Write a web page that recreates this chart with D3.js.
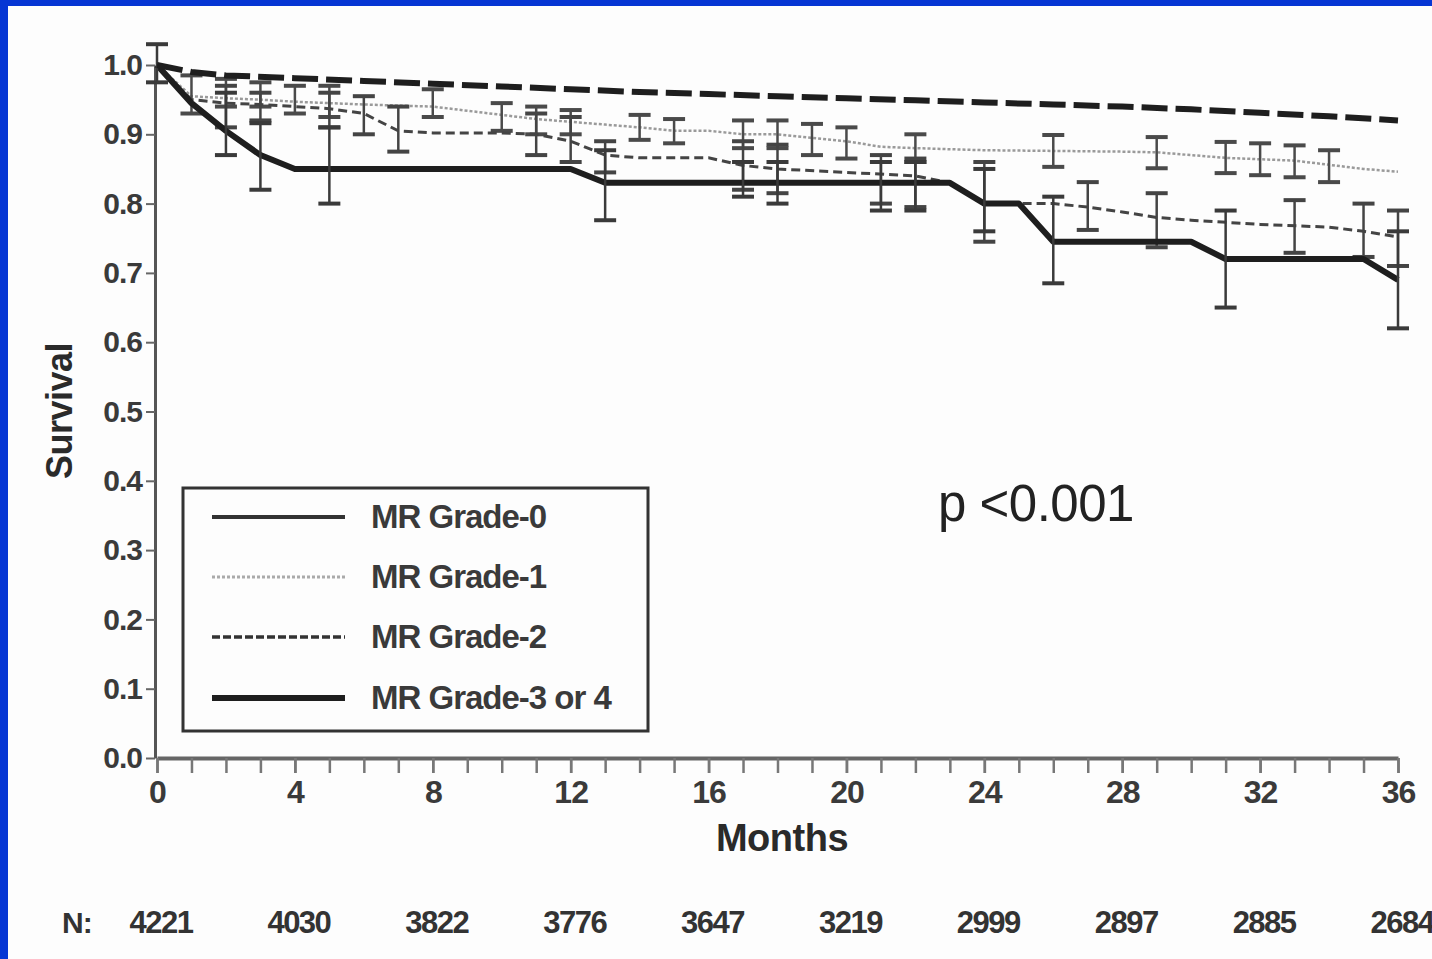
<!DOCTYPE html>
<html>
<head>
<meta charset="utf-8">
<script src="https://cdn.jsdelivr.net/npm/d3@7"></script>
<style>
  html, body { margin: 0; padding: 0; background: #0636d4; }
  svg { display: block; }
</style>
</head>
<body>
<svg id="chart" width="1432" height="959"></svg>
<script>
// ---------- data ----------
const yTicks = [0, 0.1, 0.2, 0.3, 0.4, 0.5, 0.6, 0.7, 0.8, 0.9, 1.0];
const xMajorTicks = [0, 4, 8, 12, 16, 20, 24, 28, 32, 36];
const atRisk = [4221, 4030, 3822, 3776, 3647, 3219, 2999, 2897, 2885, 2684];
const seriesNames = ["MR Grade-0", "MR Grade-1", "MR Grade-2", "MR Grade-3 or 4"];

const g0Months = [0, 1, 2, 4, 6, 8, 10, 12, 14, 16, 18, 20, 22, 24, 26, 28, 30, 32, 34, 36];
const g0Surv   = [1.0, 0.99, 0.985, 0.981, 0.977, 0.973, 0.969, 0.965, 0.961, 0.958, 0.955, 0.952, 0.949, 0.946, 0.943, 0.94, 0.936, 0.931, 0.926, 0.92];

const g1Months = [0, 1, 2, 3, 4, 5, 6, 8, 10, 11, 12, 13, 14, 15, 16, 17, 18, 19, 20, 21, 22, 24, 26, 28, 29, 30, 31, 32, 33, 34, 35, 36];
const g1Surv   = [1.0, 0.955, 0.952, 0.95, 0.947, 0.945, 0.943, 0.94, 0.928, 0.922, 0.918, 0.914, 0.91, 0.905, 0.905, 0.9, 0.9, 0.895, 0.89, 0.882, 0.88, 0.877, 0.876, 0.875, 0.874, 0.87, 0.866, 0.864, 0.862, 0.856, 0.85, 0.846];
const g1Bars = [[1, 0.93, 0.985], [2, 0.94, 0.98], [3, 0.94, 0.975], [4, 0.93, 0.97], [5, 0.925, 0.97], [8, 0.925, 0.965], [10, 0.905, 0.945], [11, 0.9, 0.94], [12, 0.9, 0.935], [14, 0.892, 0.928], [15, 0.887, 0.922], [17, 0.88, 0.92], [18, 0.88, 0.92], [19, 0.87, 0.915], [20, 0.865, 0.91], [22, 0.86, 0.9], [26, 0.853, 0.899], [29, 0.851, 0.896], [31, 0.844, 0.889], [32, 0.841, 0.887], [33, 0.838, 0.884], [34, 0.831, 0.877]];

const g2Months = [0, 1, 2, 3, 4, 5, 6, 7, 8, 9, 10, 11, 12, 13, 14, 16, 17, 18, 20, 22, 23, 24, 25, 26, 27, 28, 29, 30, 32, 34, 35, 36];
const g2Surv   = [1.0, 0.95, 0.945, 0.943, 0.94, 0.937, 0.93, 0.905, 0.902, 0.902, 0.902, 0.9, 0.89, 0.87, 0.866, 0.866, 0.855, 0.85, 0.845, 0.84, 0.83, 0.80, 0.80, 0.80, 0.795, 0.788, 0.78, 0.776, 0.77, 0.766, 0.76, 0.752];
const g2Bars = [[2, 0.91, 0.97], [3, 0.92, 0.96], [5, 0.91, 0.96], [6, 0.9, 0.955], [7, 0.875, 0.94], [11, 0.87, 0.93], [12, 0.86, 0.925], [13, 0.845, 0.89], [17, 0.82, 0.89], [18, 0.815, 0.885], [21, 0.8, 0.87], [22, 0.795, 0.865], [24, 0.745, 0.86], [27, 0.762, 0.831], [29, 0.737, 0.815], [33, 0.729, 0.805], [35, 0.723, 0.80], [36, 0.71, 0.79]];

const g3Months = [0, 1, 2, 3, 4, 12, 13, 23, 24, 25, 26, 30, 31, 35, 36];
const g3Surv   = [1.0, 0.945, 0.905, 0.87, 0.85, 0.85, 0.83, 0.83, 0.80, 0.80, 0.745, 0.745, 0.72, 0.72, 0.69];
const g3Bars = [[0, 0.975, 1.03], [2, 0.87, 0.96], [3, 0.82, 0.916], [5, 0.80, 0.91], [13, 0.776, 0.877], [17, 0.81, 0.86], [18, 0.80, 0.86], [21, 0.79, 0.86], [22, 0.79, 0.86], [24, 0.76, 0.85], [26, 0.685, 0.81], [31, 0.65, 0.79], [36, 0.62, 0.76]];

// ---------- layout ----------
const svg = d3.select("#chart");
const FONT = "'Liberation Sans', Arial, sans-serif";

svg.append("rect").attr("x", 8).attr("y", 6).attr("width", 1424).attr("height", 953).attr("fill", "#fdfdfd");

const x = d3.scaleLinear().domain([0, 36]).range([157, 1398]);
const y = d3.scaleLinear().domain([0, 1]).range([758, 65]);

// y axis
const yAxis = svg.append("g").attr("transform", "translate(155,0)")
  .call(d3.axisLeft(y).tickValues(yTicks).tickSize(9).tickSizeOuter(0).tickFormat(d3.format(".1f")));
yAxis.select(".domain").attr("stroke", "#555").attr("stroke-width", 3);
yAxis.selectAll(".tick line").attr("stroke", "#666").attr("stroke-width", 2);
yAxis.selectAll("text").attr("font-family", FONT).attr("font-size", 30).attr("font-weight", "bold")
  .attr("fill", "#3a3a3a").attr("x", -13).attr("letter-spacing", -1);

// x axis minor ticks
const xMinor = svg.append("g").attr("transform", "translate(0,758)")
  .call(d3.axisBottom(x).tickValues(d3.range(0, 37)).tickSize(15).tickSizeOuter(0).tickFormat(""));
xMinor.select(".domain").attr("stroke", "#666").attr("stroke-width", 4);
xMinor.selectAll(".tick line").attr("stroke", "#777").attr("stroke-width", 2.5);

// x axis major labels
const xMajor = svg.append("g").attr("transform", "translate(0,758)")
  .call(d3.axisBottom(x).tickValues(xMajorTicks).tickSize(15).tickSizeOuter(0));
xMajor.select(".domain").remove();
xMajor.selectAll(".tick line").attr("stroke", "#777").attr("stroke-width", 2.5);
xMajor.selectAll("text").attr("font-family", FONT).attr("font-size", 32).attr("font-weight", "bold")
  .attr("fill", "#3a3a3a").attr("y", 22).attr("letter-spacing", -1);

// axis titles
svg.append("text").attr("x", 782).attr("y", 851).attr("text-anchor", "middle")
  .attr("font-family", FONT).attr("font-size", 38).attr("font-weight", "bold").attr("fill", "#2a2a2a")
  .attr("letter-spacing", -0.5).text("Months");
svg.append("text").attr("transform", "translate(72,411) rotate(-90)").attr("text-anchor", "middle")
  .attr("font-family", FONT).attr("font-size", 36).attr("font-weight", "bold").attr("fill", "#2a2a2a")
  .attr("letter-spacing", -0.5).text("Survival");

// at-risk row
svg.append("text").attr("x", 62).attr("y", 933).attr("font-family", FONT).attr("font-size", 30)
  .attr("font-weight", "bold").attr("fill", "#333").attr("letter-spacing", -1).text("N:");
svg.append("g").selectAll("text").data(atRisk).join("text")
  .attr("x", (d, i) => x(xMajorTicks[i]) + 4).attr("y", 933).attr("text-anchor", "middle")
  .attr("font-family", FONT).attr("font-size", 31).attr("font-weight", "bold").attr("fill", "#333")
  .attr("letter-spacing", -1.5).text(d => d);

// ---------- curves ----------
const line = d3.line().x(d => x(d[0])).y(d => y(d[1]));
const zip = (a, b) => a.map((m, i) => [m, b[i]]);

function bars(data, color, w) {
  const g = svg.append("g").attr("stroke", color).attr("stroke-width", w).attr("fill", "none");
  g.selectAll("line.v").data(data).join("line").attr("class", "v")
    .attr("x1", d => x(d[0])).attr("x2", d => x(d[0])).attr("y1", d => y(d[1])).attr("y2", d => y(d[2]));
  g.selectAll("line.lo").data(data).join("line").attr("class", "lo")
    .attr("x1", d => x(d[0]) - 11).attr("x2", d => x(d[0]) + 11).attr("y1", d => y(d[1])).attr("y2", d => y(d[1]))
    .attr("stroke-width", w + 1.5);
  g.selectAll("line.hi").data(data).join("line").attr("class", "hi")
    .attr("x1", d => x(d[0]) - 11).attr("x2", d => x(d[0]) + 11).attr("y1", d => y(d[2])).attr("y2", d => y(d[2]))
    .attr("stroke-width", w + 1.5);
}

// grade-1 dotted light
svg.append("path").attr("d", line(zip(g1Months, g1Surv))).attr("fill", "none")
  .attr("stroke", "#9a9a9a").attr("stroke-width", 2.5).attr("stroke-dasharray", "3,2");
bars(g1Bars, "#4a4a4a", 2.5);

// grade-2 dashed
svg.append("path").attr("d", line(zip(g2Months, g2Surv))).attr("fill", "none")
  .attr("stroke", "#444").attr("stroke-width", 3).attr("stroke-dasharray", "9,5");
bars(g2Bars, "#444", 2.5);

// grade-3/4 thick solid
svg.append("path").attr("d", line(zip(g3Months, g3Surv))).attr("fill", "none")
  .attr("stroke", "#1e1e1e").attr("stroke-width", 6).attr("stroke-linejoin", "round");
bars(g3Bars, "#3a3a3a", 2.5);

// grade-0 thick dashed top
svg.append("path").attr("d", line(zip(g0Months, g0Surv))).attr("fill", "none")
  .attr("stroke", "#1e1e1e").attr("stroke-width", 6).attr("stroke-dasharray", "26,8");

// ---------- legend ----------
const leg = svg.append("g");
leg.append("rect").attr("x", 183).attr("y", 488).attr("width", 465).attr("height", 243)
  .attr("fill", "none").attr("stroke", "#333").attr("stroke-width", 3);
const legStyles = [
  { stroke: "#333", w: 4, dash: null },
  { stroke: "#aaa", w: 3, dash: "3,2" },
  { stroke: "#333", w: 3.5, dash: "8,3" },
  { stroke: "#1e1e1e", w: 6, dash: null }
];
const legY = [517, 577, 637, 698];
seriesNames.forEach((name, i) => {
  leg.append("line").attr("x1", 212).attr("x2", 345).attr("y1", legY[i]).attr("y2", legY[i])
    .attr("stroke", legStyles[i].stroke).attr("stroke-width", legStyles[i].w)
    .attr("stroke-dasharray", legStyles[i].dash);
  leg.append("text").attr("x", 371).attr("y", legY[i] + 11).attr("font-family", FONT)
    .attr("font-size", 33).attr("font-weight", "bold").attr("fill", "#3a3a3a").attr("letter-spacing", -1)
    .text(name);
});

// p-value
svg.append("text").attr("x", 938).attr("y", 521).attr("font-family", FONT).attr("font-size", 51)
  .attr("fill", "#222").attr("letter-spacing", -0.5).text("p <0.001");
</script>
</body>
</html>
